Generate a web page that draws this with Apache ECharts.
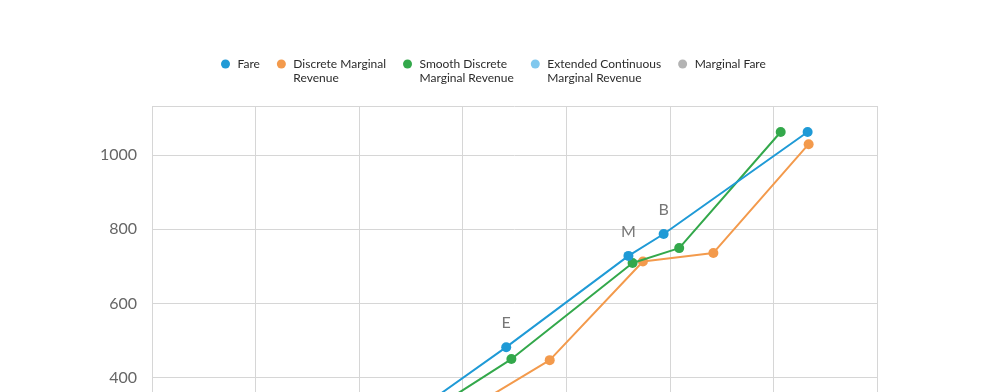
<!DOCTYPE html>
<html>
<head>
<meta charset="utf-8">
<script src="https://cdn.jsdelivr.net/npm/echarts@6/dist/echarts.min.js"></script>
<style>
  html, body { margin: 0; padding: 0; background: #fff; overflow: hidden; }
  #chart { width: 999px; height: 600px; }
</style>
</head>
<body>
<div id="chart"></div>
<script>
// values (x in grid steps, y in fare units)
const fareX = [2.50, 3.42, 4.60, 4.94, 6.33];
const fareY = [300, 482, 728, 787, 1062];
const fareLabels = ['', 'E', 'M', 'B', ''];

const discreteX = [2.97, 3.84, 4.74, 5.42, 6.34];
const discreteY = [301, 447, 713, 736, 1029];

const smoothX = [2.59, 3.47, 4.64, 5.09, 6.07];
const smoothY = [293, 450, 709, 749, 1062];

const yTicks = [0, 200, 400, 600, 800, 1000];

const seriesNames = ['Fare', 'Discrete Marginal Revenue', 'Smooth Discrete Marginal Revenue',
  'Extended Continuous Marginal Revenue', 'Marginal Fare'];
// a blank first line keeps the dot level with the first text line
const legendText = {
  'Fare': 'Fare',
  'Discrete Marginal Revenue': ' \nDiscrete Marginal\nRevenue',
  'Smooth Discrete Marginal Revenue': ' \nSmooth Discrete\nMarginal Revenue',
  'Extended Continuous Marginal Revenue': ' \nExtended Continuous\nMarginal Revenue',
  'Marginal Fare': 'Marginal Fare'
};
const colors = ['#1f9ad6', '#f39a4c', '#33a84b', '#80c8ee', '#b3b3b3'];

function zip(xs, ys) {
  return xs.map((x, i) => [x, ys[i]]);
}

const chart = echarts.init(document.getElementById('chart'));
const font = 'Lato';

const lineSeries = (name, data, color, extra) => Object.assign({
  name: name,
  type: 'line',
  data: data,
  symbol: 'circle',
  symbolSize: 10,
  color: color,
  lineStyle: { width: 2, color: color },
  itemStyle: { color: color },
  emphasis: { disabled: true },
  z: 3
}, extra || {});

chart.setOption({
  animation: false,
  color: colors,
  textStyle: { fontFamily: font },
  legend: {
    left: 216,
    top: 38,
    icon: 'circle',
    itemWidth: 14,
    itemHeight: 9,
    itemGap: 17,
    data: seriesNames,
    formatter: n => legendText[n],
    textStyle: { fontSize: 12, lineHeight: 14, color: '#2b2b2b', fontFamily: font }
  },
  grid: { left: 152, right: 122, top: 106, bottom: 74 },
  xAxis: {
    type: 'value',
    min: 0,
    max: 7,
    interval: 1,
    axisLine: { show: false },
    axisTick: { show: false },
    axisLabel: { show: false },
    splitLine: { show: true, lineStyle: { color: '#d6d6d6', width: 1 } }
  },
  yAxis: {
    type: 'value',
    min: 0,
    max: 1132,
    interval: 200,
    axisLine: { show: false },
    axisTick: { show: false },
    axisLabel: {
      margin: 15,
      fontSize: 16,
      color: '#666',
      fontFamily: font,
      formatter: v => (yTicks.indexOf(v) >= 0 ? String(v) : '')
    },
    splitLine: { show: true, lineStyle: { color: '#d6d6d6', width: 1 } }
  },
  series: [
    lineSeries(seriesNames[0], zip(fareX, fareY), colors[0], {
      z: 5,
      label: {
        show: true,
        position: 'top',
        distance: 11,
        fontSize: 16,
        color: '#777',
        fontFamily: font,
        formatter: p => fareLabels[p.dataIndex]
      }
    }),
    lineSeries(seriesNames[1], zip(discreteX, discreteY), colors[1]),
    lineSeries(seriesNames[2], zip(smoothX, smoothY), colors[2], { z: 4 }),
    lineSeries(seriesNames[3], [], colors[3]),
    lineSeries(seriesNames[4], [], colors[4])
  ]
});
</script>
</body>
</html>
